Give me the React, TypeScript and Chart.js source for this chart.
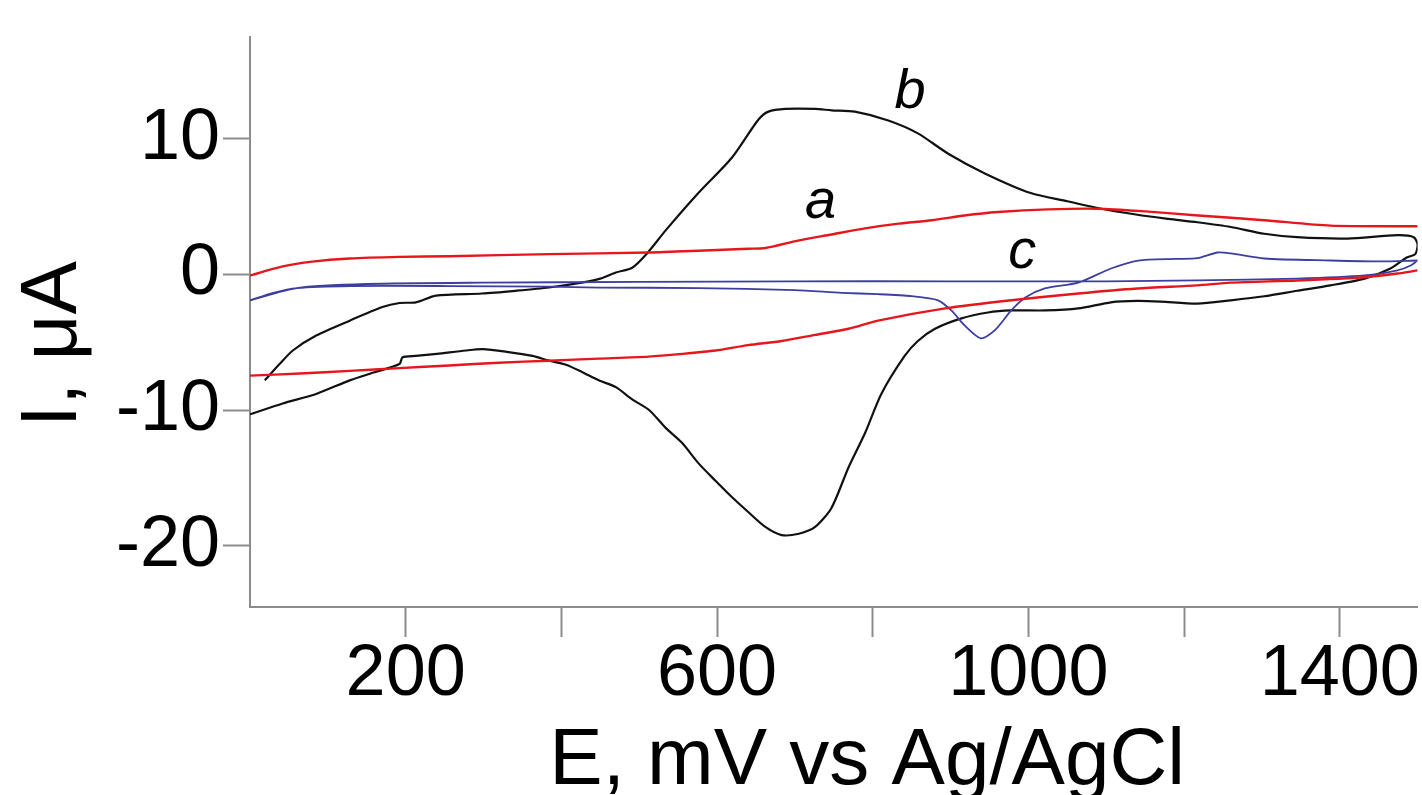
import React, { useEffect, useRef } from 'react';
import { Chart, registerables } from 'chart.js';

Chart.register(...registerables);

const FONT = '"Liberation Sans", Arial, Helvetica, sans-serif';

// Curve a (red): forward and reverse scans, E in mV, I in µA
const aForwardE = [0, 42, 80, 128, 192, 256, 384, 512, 576, 640, 662, 704, 747, 790, 833, 876, 918, 961, 1025, 1089, 1150, 1218, 1303, 1388, 1500];
const aForwardI = [-0.07, 0.6, 0.95, 1.18, 1.3, 1.35, 1.5, 1.62, 1.75, 1.9, 1.95, 2.5, 2.95, 3.4, 3.75, 4.0, 4.35, 4.6, 4.8, 4.85, 4.65, 4.35, 4.0, 3.6, 3.55];
const aReverseE = [1500, 1474, 1432, 1345, 1260, 1217, 1140, 1064, 978, 893, 807, 769, 726, 683, 640, 598, 555, 512, 448, 384, 320, 256, 192, 128, 64, 0];
const aReverseI = [0.3, 0.07, -0.2, -0.44, -0.6, -0.8, -1.03, -1.4, -1.9, -2.5, -3.4, -4.0, -4.45, -4.9, -5.2, -5.6, -5.85, -6.05, -6.2, -6.35, -6.5, -6.7, -6.9, -7.1, -7.3, -7.45];

// Curve b (black)
const bForwardE = [19, 38, 55, 85, 128, 170, 192, 213, 239, 298, 341, 384, 426, 450, 470, 491, 510, 534, 576, 619, 653, 666, 688, 726, 747, 777, 820, 858, 897, 944, 1003, 1050, 1089, 1140, 1180, 1217, 1260, 1303, 1345, 1410, 1474, 1495, 1500];
const bForwardI = [-7.8, -6.6, -5.6, -4.5, -3.4, -2.4, -2.1, -2.05, -1.55, -1.4, -1.2, -0.96, -0.6, -0.3, 0.15, 0.5, 1.55, 3.25, 6.0, 8.6, 11.4, 12.0, 12.2, 12.2, 12.1, 12.0, 11.35, 10.4, 8.9, 7.45, 6.0, 5.4, 4.9, 4.4, 4.1, 3.85, 3.5, 3.0, 2.75, 2.65, 2.9, 2.75, 2.2];
const bReverseE = [1497, 1486, 1465, 1432, 1388, 1345, 1303, 1260, 1217, 1170, 1140, 1106, 1064, 1021, 978, 948, 913, 880, 858, 841, 811, 790, 769, 747, 726, 705, 683, 662, 640, 619, 598, 576, 555, 534, 513, 491, 470, 448, 427, 406, 384, 363, 330, 299, 277, 240, 213, 196, 192, 160, 128, 85, 42, 0];
const bReverseI = [1.5, 1.25, 0.44, -0.3, -0.8, -1.2, -1.6, -1.9, -2.15, -2.0, -1.95, -2.05, -2.5, -2.65, -2.65, -2.8, -3.25, -4.0, -4.9, -6.0, -8.8, -11.7, -14.2, -17.2, -18.6, -19.1, -19.2, -18.6, -17.5, -16.4, -15.2, -13.9, -12.4, -11.3, -10.0, -9.2, -8.3, -7.8, -7.2, -6.65, -6.35, -6.0, -5.7, -5.5, -5.6, -5.85, -6.0, -6.1, -6.6, -7.2, -7.8, -8.8, -9.5, -10.3];

// Curve c (blue)
const cForwardE = [0, 30, 60, 128, 256, 384, 448, 576, 700, 760, 807, 850, 884, 901, 918, 939, 957, 978, 996, 1021, 1064, 1106, 1141, 1190, 1217, 1243, 1260, 1303, 1388, 1452, 1500];
const cForwardI = [-1.9, -1.35, -1.0, -0.85, -0.85, -0.9, -0.96, -1.0, -1.15, -1.35, -1.45, -1.6, -1.9, -2.65, -3.75, -4.7, -4.1, -2.65, -1.7, -1.03, -0.6, 0.44, 1.03, 1.15, 1.2, 1.62, 1.55, 1.18, 1.03, 0.96, 1.03];
const cReverseE = [1500, 1491, 1474, 1432, 1345, 1217, 1100, 900, 700, 500, 300, 150, 60, 0];
const cReverseI = [1.03, 0.66, 0.3, -0.07, -0.3, -0.44, -0.5, -0.5, -0.5, -0.55, -0.6, -0.7, -1.0, -1.9];

// Axis ticks
const xLabeledTicks = [200, 600, 1000, 1400];
const yTickValues = [-20, -10, 0, 10];

// Curve annotations (data coordinates)
const curveLabels = ['a', 'b', 'c'];
const curveLabelE = [733, 848, 992];
const curveLabelI = [4.2, 12.3, 0.5];

const pts = (E: number[], I: number[]) => E.map((x, i) => ({ x, y: I[i] }));

const AXIS_GRAY = '#8c8c8c';

const curveLabelPlugin = {
  id: 'curveLabels',
  afterDatasetsDraw(chart: any) {
    const { ctx, scales } = chart;
    const xs = scales.x;
    const ys = scales.y;
    ctx.save();
    ctx.font = `italic 56px ${FONT}`;
    ctx.fillStyle = '#000';
    ctx.textAlign = 'center';
    ctx.textBaseline = 'alphabetic';
    curveLabels.forEach((t, i) => {
      ctx.fillText(t, xs.getPixelForValue(curveLabelE[i]), ys.getPixelForValue(curveLabelI[i]));
    });
    ctx.restore();
  },
};

export default function App() {
  const ref = useRef<HTMLCanvasElement>(null);

  useEffect(() => {
    const lineDs = (label: string, data: any[], color: string, width: number) => ({
      label,
      data,
      showLine: true,
      borderColor: color,
      backgroundColor: color,
      borderWidth: width,
      pointRadius: 0,
      pointHoverRadius: 0,
      tension: 0.25,
      fill: false,
    });

    const chart = new Chart(ref.current as HTMLCanvasElement, {
      type: 'scatter',
      data: {
        datasets: [
          lineDs('a forward', pts(aForwardE, aForwardI), '#e6161c', 2.4),
          lineDs('a reverse', pts(aReverseE, aReverseI), '#e6161c', 2.4),
          lineDs('c', pts(cForwardE.concat(cReverseE), cForwardI.concat(cReverseI)), '#3c3ea0', 1.8),
          lineDs('b', pts(bForwardE.concat(bReverseE), bForwardI.concat(bReverseI)), '#111111', 2.2),
        ],
      },
      options: {
        animation: false,
        responsive: true,
        maintainAspectRatio: false,
        layout: { padding: { left: 0, top: 37, right: 2, bottom: 0 } },
        plugins: {
          legend: { display: false },
          tooltip: { enabled: false },
        },
        scales: {
          x: {
            type: 'linear',
            min: 0,
            max: 1500,
            afterFit: (scale: any) => {
              scale.height = 188;
            },
            border: { display: true, color: AXIS_GRAY, width: 2 },
            grid: {
              drawOnChartArea: false,
              drawTicks: true,
              tickLength: 30,
              tickWidth: 2,
              tickColor: (ctx: any) => (ctx.tick && ctx.tick.value === 0 ? 'rgba(0,0,0,0)' : AXIS_GRAY),
            },
            ticks: {
              stepSize: 200,
              includeBounds: false,
              autoSkip: false,
              maxRotation: 0,
              minRotation: 0,
              padding: 2,
              color: '#000',
              font: { family: FONT, size: 72, lineHeight: 1.0 },
              callback: (v: any) => (xLabeledTicks.includes(Number(v)) ? String(v) : ''),
            },
            title: {
              display: true,
              text: '   E, mV vs Ag/AgCl',
              color: '#000',
              font: { family: FONT, size: 80, lineHeight: 0.8 },
              padding: { top: 0, bottom: 1 },
            },
          },
          y: {
            type: 'linear',
            min: -24.5,
            max: 17.5,
            afterFit: (scale: any) => {
              scale.width = 250;
            },
            border: { display: true, color: AXIS_GRAY, width: 2 },
            grid: {
              drawOnChartArea: false,
              drawTicks: true,
              tickLength: 27,
              tickWidth: 2,
              tickColor: AXIS_GRAY,
            },
            afterBuildTicks: (scale: any) => {
              scale.ticks = yTickValues.map((v) => ({ value: v }));
            },
            ticks: {
              stepSize: 10,
              includeBounds: false,
              padding: 3,
              color: '#000',
              font: { family: FONT, size: 72, lineHeight: 0.9 },
              callback: (v: any) => String(v),
            },
            title: {
              display: true,
              text: 'I, μA  ',
              color: '#000',
              font: { family: FONT, size: 80, lineHeight: 1.2 },
              padding: { top: 6, bottom: 0 },
            },
          },
        },
      },
      plugins: [curveLabelPlugin],
    } as any);

    return () => chart.destroy();
  }, []);

  return (
    <div style={{ position: 'fixed', left: 0, top: 0, width: 1422, height: 795, background: '#fff' }}>
      <canvas ref={ref} />
    </div>
  );
}
